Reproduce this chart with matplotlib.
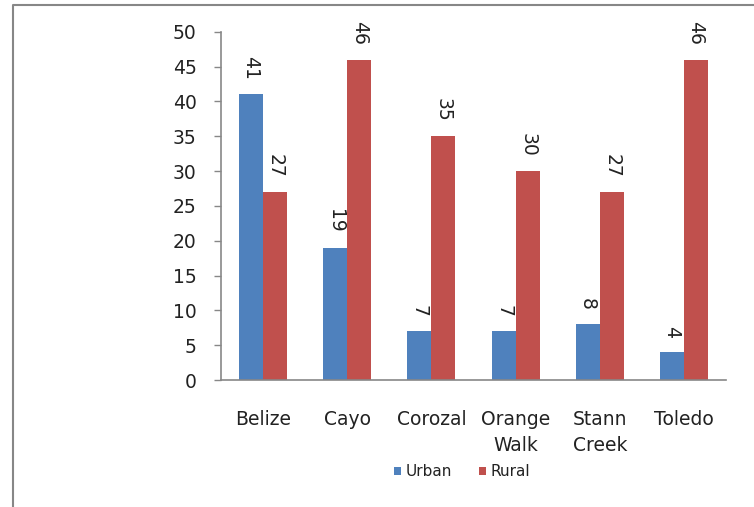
import matplotlib
matplotlib.use("Agg")
import matplotlib.pyplot as plt
from matplotlib.lines import Line2D
import numpy as np

districts = ["Belize", "Cayo", "Corozal", "Orange\nWalk", "Stann\nCreek", "Toledo"]
urban = [41, 19, 7, 7, 8, 4]
rural = [27, 46, 35, 30, 27, 46]
yticks = [0, 5, 10, 15, 20, 25, 30, 35, 40, 45, 50]

blue = "#4F81BD"
red = "#C0504D"
txt = "#222222"
grey = "#878787"

plt.rcParams["font.family"] = ["DejaVu Sans"]

fig = plt.figure(figsize=(7.54, 5.07), dpi=100)
ax = fig.add_axes([221 / 754, 1 - 380 / 507, 505 / 754, 348.3 / 507])

x = np.arange(len(districts))
w = 0.2857
b1 = ax.bar(x - w / 2, urban, w, color=blue, label="Urban")
b2 = ax.bar(x + w / 2, rural, w, color=red, label="Rural")

for bars in (b1, b2):
    for r in bars:
        ax.annotate(str(int(r.get_height())),
                    (r.get_x() + r.get_width() / 2, r.get_height()),
                    xytext=(0, 10.5), textcoords="offset points",
                    rotation=-90, ha="center", va="bottom",
                    fontsize=13.5, color=txt, annotation_clip=False)

ax.set_xlim(-0.5, len(districts) - 0.5)
ax.set_ylim(0, 50)
ax.set_yticks(yticks)
ax.set_xticks(x)
ax.set_xticklabels(districts, linespacing=1.5)
ax.tick_params(axis="y", direction="out", length=5, width=1, color=grey,
               pad=12.5, labelsize=13.5, labelcolor=txt)
ax.tick_params(axis="x", length=0, pad=21.5, labelsize=13.5, labelcolor=txt)

for s in ("top", "right"):
    ax.spines[s].set_visible(False)
for s in ("left", "bottom"):
    ax.spines[s].set_color(grey)
    ax.spines[s].set_linewidth(1.2)

leg = fig.legend(loc="center", bbox_to_anchor=(462 / 754, 1 - 472 / 507),
                 ncol=2, frameon=False, fontsize=11, handlelength=0.45,
                 handleheight=0.45, handletextpad=0.3, columnspacing=1.75,
                 labelcolor=txt)

# outer chart frame (partly cut off at the right and bottom)
fig.add_artist(Line2D([13 / 754, 13 / 754, 1.0], [0.0, 1 - 5 / 507, 1 - 5 / 507],
                      transform=fig.transFigure, color=grey, linewidth=1.5))

fig.savefig("out.png", dpi=100)
